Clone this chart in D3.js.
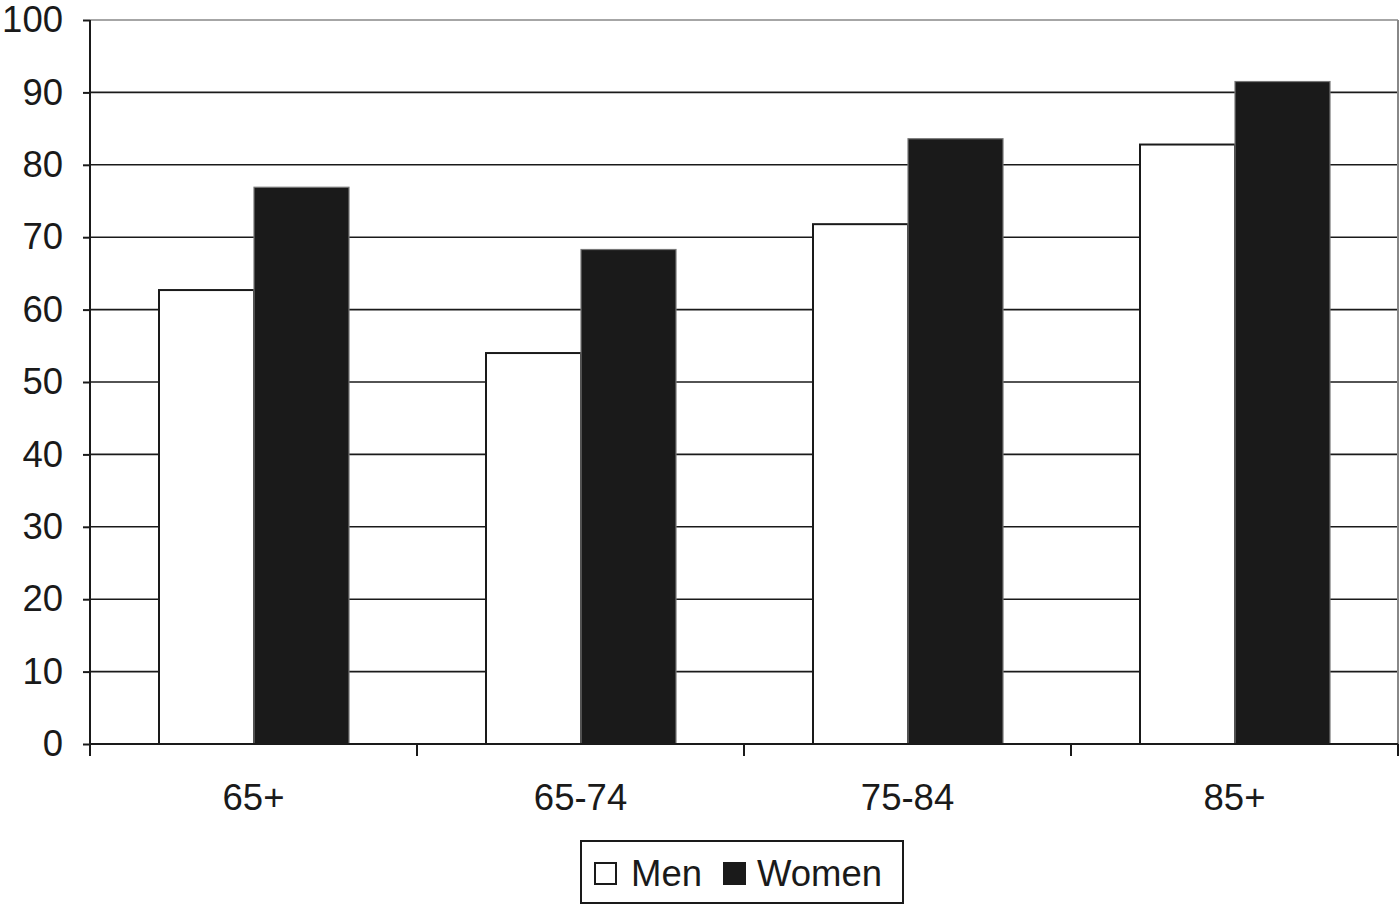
<!DOCTYPE html>
<html><head><meta charset="utf-8">
<script src="https://cdn.jsdelivr.net/npm/d3@7"></script>
<style>body{margin:0;background:#fff}svg{display:block}text{font-family:"Liberation Sans",Arial,sans-serif;fill:#1a1a1a}</style>
</head><body>
<script>
const categories = ["65+", "65-74", "75-84", "85+"];
const men = [62.7, 54.0, 71.8, 82.8];
const women = [76.9, 68.3, 83.6, 91.5];
const seriesNames = ["Men", "Women"];
const yTicks = [0,10,20,30,40,50,60,70,80,90,100];

const W = 1400, H = 905;
const FS = 36.5;
const m = {left: 90, right: 2, top: 20, bottom: 161};
const svg = d3.select("body").append("svg").attr("width", W).attr("height", H);
const x = d3.scaleBand().domain(categories).range([m.left, W - m.right]).paddingInner(0).paddingOuter(0);
const y = d3.scaleLinear().domain([0, 100]).range([H - m.bottom, m.top]);
const inner = d3.scaleBand().domain(seriesNames).range([69, x.bandwidth() - 68]).padding(0);

// gridlines
svg.append("g").selectAll("line").data(yTicks.filter(d => d > 0)).join("line")
  .attr("x1", m.left).attr("x2", W - m.right)
  .attr("y1", d => y(d)).attr("y2", d => y(d))
  .attr("stroke", d => d === 100 ? "#888" : "#1a1a1a").attr("stroke-width", 1.6);
// right border
svg.append("line").attr("x1", W - m.right).attr("x2", W - m.right).attr("y1", y(100)).attr("y2", y(0))
  .attr("stroke", "#888").attr("stroke-width", 2);

const data = categories.map((c, i) => ({c, vals: [{s: "Men", v: men[i]}, {s: "Women", v: women[i]}]}));
const g = svg.append("g").selectAll("g").data(data).join("g").attr("transform", d => `translate(${x(d.c)},0)`);
g.selectAll("rect").data(d => d.vals).join("rect")
  .attr("x", d => inner(d.s)).attr("width", inner.bandwidth())
  .attr("y", d => y(d.v)).attr("height", d => y(0) - y(d.v))
  .attr("fill", d => d.s === "Men" ? "#fff" : "#1a1a1a")
  .attr("stroke", d => d.s === "Men" ? "#1a1a1a" : "#777")
  .attr("stroke-width", d => d.s === "Men" ? 2 : 1.2);

// y axis
const ya = svg.append("g").attr("transform", `translate(${m.left},0)`)
  .call(d3.axisLeft(y).tickValues(yTicks).tickSize(7).tickPadding(20));
ya.select(".domain").attr("stroke", "#1a1a1a").attr("stroke-width", 2).attr("d", `M0,${y(0)+12}V${y(100)}`);
ya.selectAll(".tick line").attr("stroke", "#1a1a1a").attr("stroke-width", 2);
ya.selectAll("text").attr("font-size", FS).style("font-family", "Liberation Sans, Arial, sans-serif").attr("fill", "#1a1a1a");

// x axis
const xa = svg.append("g").attr("transform", `translate(0,${y(0)})`)
  .call(d3.axisBottom(x).tickSize(0).tickPadding(40));
xa.select(".domain").attr("stroke", "#1a1a1a").attr("stroke-width", 2).attr("d", `M${m.left},0H${W - m.right}`);
xa.selectAll("text").attr("font-size", FS).style("font-family", "Liberation Sans, Arial, sans-serif").attr("fill", "#1a1a1a");
const bounds = categories.map(c => x(c)).concat([x(categories[categories.length-1]) + x.bandwidth()]);
xa.append("g").selectAll("line").data(bounds).join("line")
  .attr("x1", d => d).attr("x2", d => d).attr("y1", 0).attr("y2", 12)
  .attr("stroke", "#1a1a1a").attr("stroke-width", 2);

// legend
const lg = svg.append("g");
lg.append("rect").attr("x", 581).attr("y", 841).attr("width", 322).attr("height", 62)
  .attr("fill", "#fff").attr("stroke", "#1a1a1a").attr("stroke-width", 2);
const items = [{s: "Men", x: 595, tx: 631}, {s: "Women", x: 724, tx: 757}];
items.forEach(it => {
  lg.append("rect").attr("x", it.x).attr("y", 863).attr("width", 21).attr("height", 21)
    .attr("fill", it.s === "Men" ? "#fff" : "#1a1a1a").attr("stroke", "#1a1a1a").attr("stroke-width", 2);
  lg.append("text").attr("x", it.tx).attr("y", 886).attr("font-size", FS).text(it.s);
});
</script>
</body></html>
